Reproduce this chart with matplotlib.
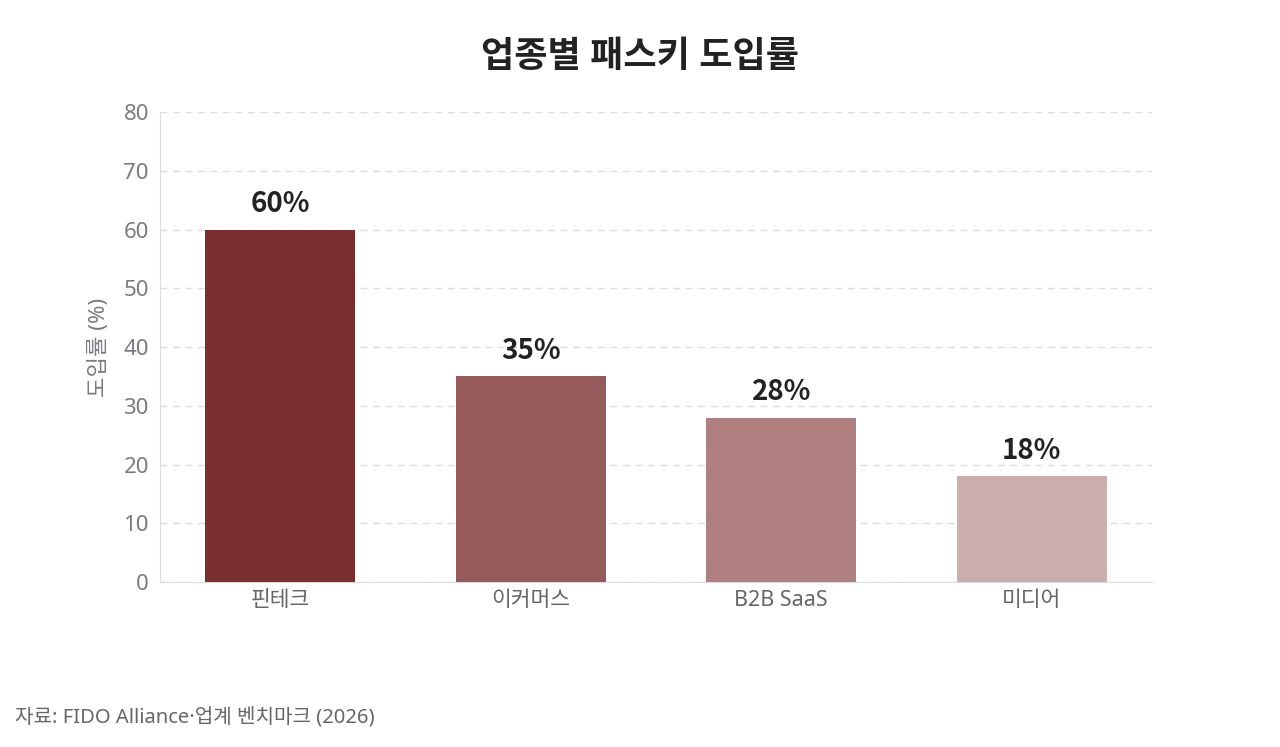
import matplotlib
matplotlib.use("Agg")
import matplotlib.pyplot as plt

plt.rcParams['font.family'] = ['Noto Sans', 'Noto Sans CJK KR', 'DejaVu Sans']

categories = ["핀테크", "이커머스", "B2B SaaS", "미디어"]
values = [60, 35, 28, 18]
colors = ["#7a2e2e", "#955b5b", "#b08080", "#cbadad"]
yticks = [0, 10, 20, 30, 40, 50, 60, 70, 80]

fig = plt.figure(figsize=(12.8, 7.47), dpi=100)
ax = fig.add_axes([0.125, 0.2209, 0.775, 0.629])

x = range(len(categories))
bars = ax.bar(x, values, width=0.6, color=colors, zorder=3)
for xi, v in zip(x, values):
    ax.text(xi, v + 1.9, f"{v}%", ha="center", va="bottom", fontsize=20,
            fontweight="bold", color="#222222",
            family=['Noto Sans CJK KR', 'DejaVu Sans'])

ax.set_xlim(-0.48, 3.48)
ax.set_ylim(0, 80)
ax.set_yticks(yticks)
ax.set_xticks(list(x))
ax.set_xticklabels(categories)
ax.tick_params(axis='y', labelsize=16, colors="#7a7a85", length=0, pad=8)
ax.tick_params(axis='x', labelsize=15.5, colors="#666666", length=0, pad=6)
ax.grid(axis='y', color="#dddddd", linestyle=(0, (5, 4)), linewidth=1, zorder=0)
for s in ["top", "right"]:
    ax.spines[s].set_visible(False)
ax.spines["left"].set_color("#dddddd")
ax.spines["bottom"].set_color("#dddddd")
ax.set_ylabel("도입률 (%)", fontsize=16, color="#7a7a85", labelpad=10)

fig.text(0.5, 0.922, "업종별 패스키 도입률", ha="center", va="center",
         fontsize=26, fontweight="bold", color="#222222")
fig.text(0.012, 0.038, "자료: FIDO Alliance·업계 벤치마크 (2026)", ha="left",
         va="center", fontsize=14.5, color="#666666")

fig.savefig("out.png", dpi=100)
